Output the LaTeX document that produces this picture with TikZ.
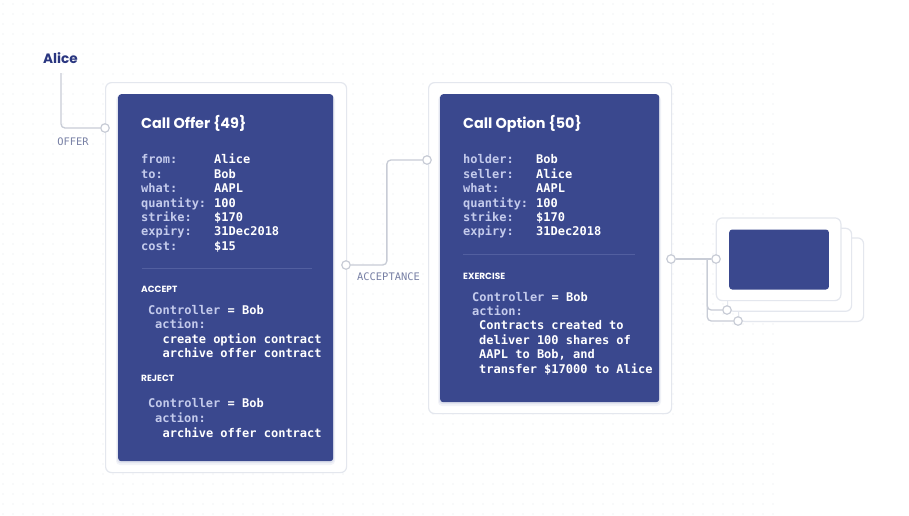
\documentclass[tikz,border=0pt]{standalone}
\usepackage{fontspec}
\newfontfamily\titlefont{Poppins}
\newfontfamily\monofont{DejaVu Sans Mono}
\definecolor{bluec}{RGB}{58,72,142}
\definecolor{keyc}{RGB}{196,203,236}
\definecolor{navyc}{RGB}{42,54,128}
\definecolor{lblc}{RGB}{120,128,165}
\definecolor{wirec}{RGB}{200,204,214}
\definecolor{framec}{RGB}{228,231,238}
\definecolor{dotc}{RGB}{228,230,236}
\definecolor{sepc}{RGB}{82,95,160}
\definecolor{shadc}{RGB}{150,160,200}
\tikzset{
  frame/.style={draw=framec, line width=1.2, rounded corners=6, fill=white, inner sep=0, anchor=north west},
  bluebox/.style={fill=bluec, rounded corners=3, inner sep=0, anchor=north west},
  port/.style={circle, draw=wirec, fill=white, line width=1.2, minimum size=8.5, inner sep=0},
  wire/.style={draw=wirec, line width=1.3, rounded corners=4},
  title/.style={font=\titlefont\bfseries\fontsize{14.4}{14.4}\selectfont, text=white, anchor=base west, inner sep=0},
  head/.style={font=\titlefont\bfseries\fontsize{9}{9}\selectfont, text=white, anchor=base west, inner sep=0},
  keytxt/.style={font=\monofont\bfseries\fontsize{12}{14}\selectfont, text=keyc, anchor=base west, inner sep=0},
  valtxt/.style={font=\monofont\bfseries\fontsize{12}{14}\selectfont, text=white, anchor=base west, inner sep=0},
  lbl/.style={font=\monofont\fontsize{10.4}{11}\selectfont, text=lblc, inner sep=0},
  sepline/.style={draw=sepc, line width=0.8},
}
\begin{document}
\begin{tikzpicture}[x=1pt,y=-1pt]
\useasboundingbox[fill=white] (0,0) rectangle (909,515);
% dot grid
\foreach \i in {0,...,77} {\foreach \j in {0,...,51} {\fill[dotc] (3+10*\i,4+10*\j) circle (0.7);}}

% ---- frames
\node[frame, minimum width=241, minimum height=390] (f1) at (105,82) {};
\node[frame, minimum width=243, minimum height=331] (f2) at (428,82) {};
\node[frame, minimum width=125, minimum height=83.5] (f5) at (738,237.3) {};
\node[frame, minimum width=124, minimum height=83] (f4) at (727,227.7) {};
\node[frame, minimum width=124.6, minimum height=82.7] (f3) at (715.7,217.3) {};

% ---- shadows
\fill[shadc, opacity=.12, rounded corners=4] (116,96) rectangle (335,465);
\fill[shadc, opacity=.18, rounded corners=3] (117,95) rectangle (334,463);
\fill[shadc, opacity=.12, rounded corners=4] (438,96) rectangle (661,406);
\fill[shadc, opacity=.18, rounded corners=3] (439,95) rectangle (660,404);

% ---- blue boxes
\node[bluebox, minimum width=215, minimum height=367] (b1) at (118,94) {};
\node[bluebox, minimum width=219, minimum height=308] (b2) at (440,94) {};
\node[bluebox, minimum width=99.7, minimum height=60] (b3) at (729,229.3) {};

% ---- Alice and wires
\node[font=\titlefont\bfseries\fontsize{13.6}{13.6}\selectfont, text=navyc, anchor=base west, inner sep=0] (alice) at (43,63) {Alice};
\coordinate (a0) at (61,73);
\node[port] (p1) at (105,128) {};
\node[port] (p2) at (346,265) {};
\node[port] (p3) at (427,160) {};
\node[port] (p4) at (671,259) {};
\node[port] (p5) at (716,259) {};
\node[port] (p6) at (727,310) {};
\node[port] (p7) at (738,321) {};
\coordinate (br) at (707.3,259);

\draw[wire] (a0) |- (p1.west);
\draw[wire] (p2.east) -- ++(36,0) |- (p3.west);
\draw[wire] (p4.east) -- (p5.west);
\draw[wire] (br) |- (p6.west);
\draw[wire] (br) |- (p7.west);

\node[lbl] (offer) at (73,142) {OFFER};
\node[lbl] (accept) at (388.5,277) {ACCEPTANCE};

% ---- box 1 content
\node[title] (t1) at (141,128.5) {Call Offer \{49\}};
\foreach \k/\v [count=\i] in {from:/Alice, to:/Bob, what:/AAPL, quantity:/100, strike:/\$170, expiry:/31Dec2018, cost:/\$15} {
  \node[keytxt] (k1-\i) at (141,163.7+14.45*\i-14.45) {\k};
  \node[valtxt] (v1-\i) at (214,163.7+14.45*\i-14.45) {\v};
}
\draw[sepline] (141.7,268.3) -- (311.7,268.3);
\node[head] (h1) at (141,292.5) {ACCEPT};
\node[valtxt] (c1) at (148,314.4) {\textcolor{keyc}{Controller} = Bob};
\node[keytxt] (c2) at (155,328.7) {action:};
\node[valtxt] (c3) at (162.5,343.4) {create option contract};
\node[valtxt] (c4) at (162.5,357.7) {archive offer contract};
\node[head] (h2) at (141,381.5) {REJECT};
\node[valtxt] (c5) at (148,407.7) {\textcolor{keyc}{Controller} = Bob};
\node[keytxt] (c6) at (155,422.4) {action:};
\node[valtxt] (c7) at (162.5,437.1) {archive offer contract};

% ---- box 2 content
\node[title] (t2) at (463,128.5) {Call Option \{50\}};
\foreach \k/\v [count=\i] in {holder:/Bob, seller:/Alice, what:/AAPL, quantity:/100, strike:/\$170, expiry:/31Dec2018} {
  \node[keytxt] (k2-\i) at (463,163.7+14.45*\i-14.45) {\k};
  \node[valtxt] (v2-\i) at (536,163.7+14.45*\i-14.45) {\v};
}
\draw[sepline] (463,254) -- (635,254);
\node[head] (h3) at (463,279.2) {EXERCISE};
\node[valtxt] (e1) at (472,301.1) {\textcolor{keyc}{Controller} = Bob};
\node[keytxt] (e2) at (472,315.4) {action:};
\node[valtxt] (e3) at (479,329.7) {Contracts created to};
\node[valtxt] (e4) at (479,344.4) {deliver 100 shares of};
\node[valtxt] (e5) at (479,358.7) {AAPL to Bob, and};
\node[valtxt] (e6) at (479,373.4) {transfer \$17000 to Alice};
\end{tikzpicture}
\end{document}
